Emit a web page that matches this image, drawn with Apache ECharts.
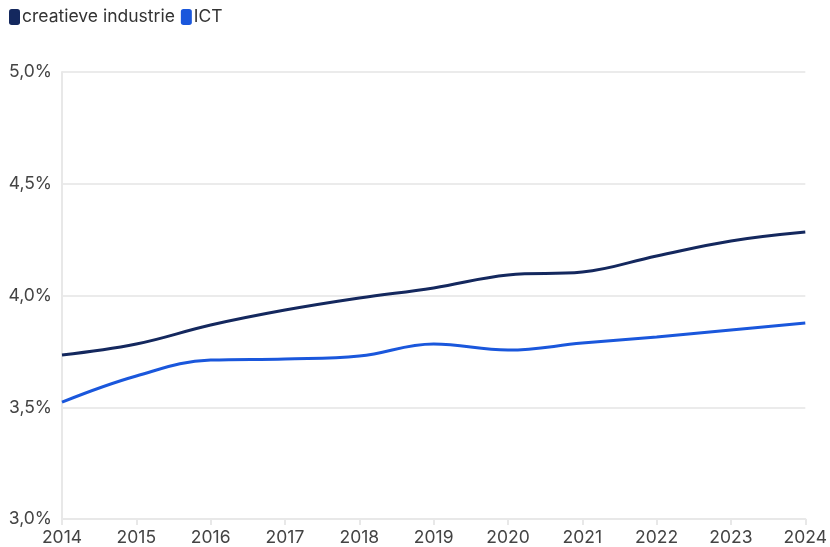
<!DOCTYPE html>
<html>
<head>
<meta charset="utf-8">
<script src="https://cdn.jsdelivr.net/npm/echarts@6/dist/echarts.min.js"></script>
<style>
  html, body { margin: 0; padding: 0; background: #fff; }
  #main { width: 830px; height: 547px; }
</style>
</head>
<body>
<div id="main"></div>
<script>
// jaren en percentages
const years = ["2014", "2015", "2016", "2017", "2018", "2019", "2020", "2021", "2022", "2023", "2024"];
const creatief = [3.734, 3.783, 3.868, 3.935, 3.989, 4.034, 4.092, 4.105, 4.177, 4.244, 4.284];
const ict = [3.523, 3.640, 3.711, 3.716, 3.729, 3.783, 3.756, 3.787, 3.814, 3.846, 3.877];

const fmt = (v) => v.toFixed(1).replace(".", ",") + "%";

let myChart = echarts.init(document.getElementById("main"));
let option = {
  animation: false,
  textStyle: { fontFamily: "Inter, sans-serif" },
  legend: {
    left: 4,
    top: 3,
    itemGap: 6,
    itemWidth: 11,
    itemHeight: 16,
    icon: "roundRect",
    textStyle: { fontSize: 17.5, color: "#333", padding: [0, 0, 0, -3] },
    data: ["creatieve industrie", "ICT"],
  },
  grid: {
    left: 62,
    right: 23,
    top: 72,
    bottom: 28,
  },
  xAxis: {
    type: "category",
    boundaryGap: false,
    data: years,
    axisLine: { lineStyle: { color: "#e8e8e8", width: 2 } },
    axisTick: { show: true, length: 6, lineStyle: { color: "#e8e8e8", width: 2 } },
    axisLabel: { color: "#444", fontSize: 17.5, margin: 10 },
    splitLine: { show: false },
  },
  yAxis: {
    type: "value",
    min: 3,
    max: 5,
    interval: 0.5,
    axisLine: { show: true, lineStyle: { color: "#e8e8e8", width: 2 } },
    axisTick: { show: false },
    axisLabel: { color: "#444", fontSize: 17.5, margin: 10, formatter: fmt },
    splitLine: { lineStyle: { color: "#ebebeb", width: 2 } },
  },
  series: [
    {
      name: "creatieve industrie",
      type: "line",
      data: creatief,
      smooth: 0.4,
      symbol: "none",
      color: "#14285e",
      lineStyle: { width: 3 },
    },
    {
      name: "ICT",
      type: "line",
      data: ict,
      smooth: 0.4,
      symbol: "none",
      color: "#1a57dc",
      lineStyle: { width: 3 },
    },
  ],
};
myChart.setOption(option);
</script>
</body>
</html>
